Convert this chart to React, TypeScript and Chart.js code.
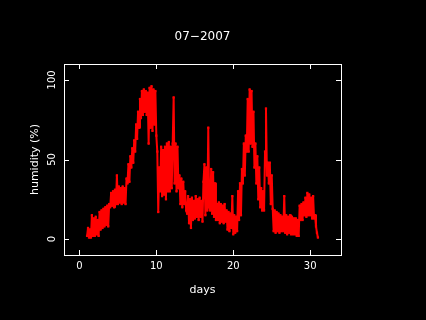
import React, { useEffect, useRef } from "react";
import { Chart, registerables } from "chart.js";

Chart.register(...registerables);

const chartTitle = "07\u22122007";
const xTitle = "days";
const yTitle = "humidity (%)";
const xTicks = [0, 10, 20, 30];
const yTicks = [0, 50, 100];

const days = [
  1, 1.125, 1.25, 1.375, 1.5, 1.625, 1.75, 1.875,
  2, 2.125, 2.25, 2.375, 2.5, 2.625, 2.75, 2.875,
  3, 3.125, 3.25, 3.375, 3.5, 3.625, 3.75, 3.875,
  4, 4.125, 4.25, 4.375, 4.5, 4.625, 4.75, 4.875,
  5, 5.125, 5.25, 5.375, 5.5, 5.625, 5.75, 5.875,
  6, 6.125, 6.25, 6.375, 6.5, 6.625, 6.75, 6.875,
  7, 7.125, 7.25, 7.375, 7.5, 7.625, 7.75, 7.875,
  8, 8.125, 8.25, 8.375, 8.5, 8.625, 8.75, 8.875,
  9, 9.125, 9.25, 9.375, 9.5, 9.625, 9.75, 9.875,
  10, 10.125, 10.25, 10.375, 10.5, 10.625, 10.75, 10.875,
  11, 11.125, 11.25, 11.375, 11.5, 11.625, 11.75, 11.875,
  12, 12.125, 12.25, 12.375, 12.5, 12.625, 12.75, 12.875,
  13, 13.125, 13.25, 13.375, 13.5, 13.625, 13.75, 13.875,
  14, 14.125, 14.25, 14.375, 14.5, 14.625, 14.75, 14.875,
  15, 15.125, 15.25, 15.375, 15.5, 15.625, 15.75, 15.875,
  16, 16.125, 16.25, 16.375, 16.5, 16.625, 16.75, 16.875,
  17, 17.125, 17.25, 17.375, 17.5, 17.625, 17.75, 17.875,
  18, 18.125, 18.25, 18.375, 18.5, 18.625, 18.75, 18.875,
  19, 19.125, 19.25, 19.375, 19.5, 19.625, 19.75, 19.875,
  20, 20.125, 20.25, 20.375, 20.5, 20.625, 20.75, 20.875,
  21, 21.125, 21.25, 21.375, 21.5, 21.625, 21.75, 21.875,
  22, 22.125, 22.25, 22.375, 22.5, 22.625, 22.75, 22.875,
  23, 23.125, 23.25, 23.375, 23.5, 23.625, 23.75, 23.875,
  24, 24.125, 24.25, 24.375, 24.5, 24.625, 24.75, 24.875,
  25, 25.125, 25.25, 25.375, 25.5, 25.625, 25.75, 25.875,
  26, 26.125, 26.25, 26.375, 26.5, 26.625, 26.75, 26.875,
  27, 27.125, 27.25, 27.375, 27.5, 27.625, 27.75, 27.875,
  28, 28.125, 28.25, 28.375, 28.5, 28.625, 28.75, 28.875,
  29, 29.125, 29.25, 29.375, 29.5, 29.625, 29.75, 29.875,
  30, 30.125, 30.25, 30.375, 30.5, 30.625, 30.75, 30.875,
  31,
];

const humidity = [
  2, 7, 1, 6, 1, 15, 2, 13,
  2, 14, 3, 12, 2, 17, 6, 18,
  7, 19, 8, 20, 9, 21, 8, 22,
  20, 29, 21, 30, 20, 31, 22, 40,
  22, 33, 23, 32, 22, 33, 23, 32,
  22, 38, 35, 47, 36, 52, 45, 57,
  48, 62, 55, 72, 63, 80, 70, 88,
  76, 93, 78, 94, 80, 93, 78, 92,
  60, 95, 70, 96, 68, 94, 72, 93,
  65, 55, 17, 45, 30, 58, 27, 56,
  28, 58, 25, 60, 30, 61, 30, 58,
  32, 60, 89, 35, 60, 30, 58, 32,
  40, 22, 38, 20, 36, 22, 30, 18,
  16, 27, 10, 25, 7, 26, 12, 24,
  13, 27, 14, 25, 12, 26, 14, 24,
  11, 36, 47, 15, 45, 18, 70, 20,
  18, 44, 16, 42, 14, 35, 12, 22,
  12, 23, 10, 22, 11, 21, 10, 22,
  11, 18, 6, 17, 5, 16, 7, 27,
  3, 15, 4, 14, 5, 30, 12, 35,
  15, 44, 35, 60, 40, 65, 55, 88,
  55, 94, 60, 93, 58, 80, 45, 60,
  35, 52, 25, 45, 20, 32, 18, 30,
  18, 55, 82, 40, 48, 35, 48, 22,
  40, 19, 5, 18, 4, 17, 5, 16,
  4, 15, 5, 14, 5, 27, 4, 15,
  3, 14, 4, 15, 3, 14, 3, 13,
  3, 13, 2, 12, 2, 21, 12, 22,
  12, 23, 15, 26, 14, 29, 15, 28,
  15, 26, 13, 27, 13, 15, 8, 4,
  1,
];

const FONT = "'DejaVu Sans', sans-serif";

const framePlugin = {
  id: "frame",
  afterDraw(chart: any) {
    const { ctx, chartArea } = chart;
    const xs = chart.scales.x;
    const ys = chart.scales.y;
    const { left, right, top, bottom } = chartArea;
    ctx.save();
    ctx.strokeStyle = "#ffffff";
    ctx.fillStyle = "#ffffff";
    ctx.lineWidth = 1;
    ctx.strokeRect(Math.round(left) + 0.5, Math.round(top) + 0.5, Math.round(right - left), Math.round(bottom - top));
    const tl = 5;
    ctx.beginPath();
    for (const t of xTicks) {
      const px = Math.round(xs.getPixelForValue(t)) + 0.5;
      ctx.moveTo(px, bottom);
      ctx.lineTo(px, bottom - tl);
      ctx.moveTo(px, top);
      ctx.lineTo(px, top + tl);
    }
    for (const t of yTicks) {
      const py = Math.round(ys.getPixelForValue(t)) + 0.5;
      ctx.moveTo(left, py);
      ctx.lineTo(left + tl, py);
      ctx.moveTo(right, py);
      ctx.lineTo(right - tl, py);
    }
    ctx.stroke();

    ctx.font = `10px ${FONT}`;
    ctx.textAlign = "center";
    ctx.textBaseline = "middle";
    for (const t of xTicks) {
      ctx.fillText(String(t), xs.getPixelForValue(t), 266);
    }
    for (const t of yTicks) {
      ctx.save();
      ctx.translate(52, ys.getPixelForValue(t));
      ctx.rotate(-Math.PI / 2);
      ctx.fillText(String(t), 0, 0);
      ctx.restore();
    }
    ctx.font = `11px ${FONT}`;
    ctx.fillText(xTitle, (left + right) / 2, 290);
    ctx.save();
    ctx.translate(35, (top + bottom) / 2);
    ctx.rotate(-Math.PI / 2);
    ctx.fillText(yTitle, 0, 0);
    ctx.restore();
    ctx.font = `12px ${FONT}`;
    ctx.fillText(chartTitle, (left + right) / 2, 37);
    ctx.restore();
  },
};

export default function App() {
  const ref = useRef<HTMLCanvasElement>(null);
  useEffect(() => {
    if (!ref.current) return;
    const points = days.map((d, i) => ({ x: d, y: humidity[i] }));
    const chart = new Chart(ref.current, {
      type: "scatter",
      data: {
        datasets: [
          {
            data: points,
            showLine: true,
            borderColor: "#ff0000",
            backgroundColor: "#ff0000",
            borderWidth: 2,
            borderJoinStyle: "round",
            borderCapStyle: "round",
            pointRadius: 1.6,
            pointStyle: "rect",
            pointBorderWidth: 0,
            tension: 0,
          },
        ],
      },
      options: {
        responsive: false,
        animation: false,
        events: [],
        layout: { padding: { left: 64, right: 85, top: 64, bottom: 65 } },
        plugins: { legend: { display: false }, title: { display: false }, tooltip: { enabled: false } },
        scales: {
          x: { type: "linear", min: -2, max: 34, display: false },
          y: { type: "linear", min: -10, max: 110, display: false },
        },
      },
      plugins: [framePlugin],
    });
    return () => chart.destroy();
  }, []);
  return (
    <div style={{ position: "absolute", left: 0, top: 0, width: 426, height: 320, background: "#000" }}>
      <canvas ref={ref} width={426} height={320} style={{ display: "block", background: "#000" }} />
    </div>
  );
}
